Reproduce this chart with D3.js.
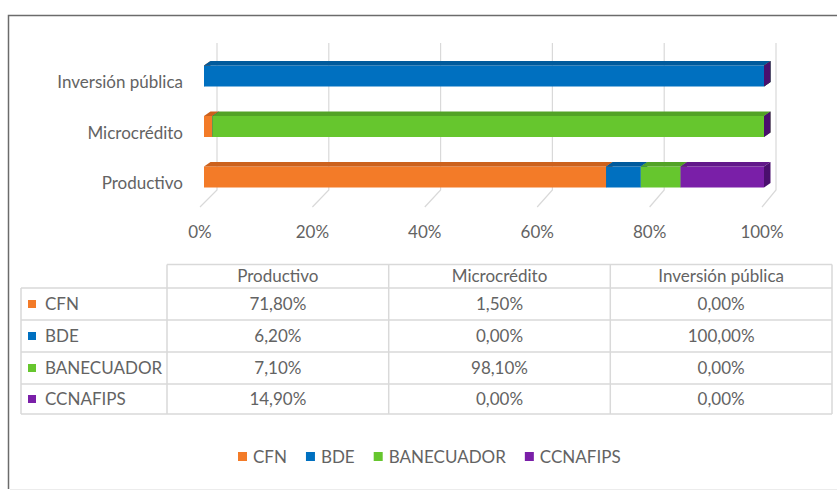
<!DOCTYPE html>
<html>
<head>
<meta charset="utf-8">
<script src="https://cdn.jsdelivr.net/npm/d3@7"></script>
<style>
  body { margin: 0; background: #fff; }
  text { font-family: Lato, "Open Sans", sans-serif; fill: #636363; }
</style>
</head>
<body>
<div id="vis"></div>
<script>
// chart values
var categories = ["Productivo", "Microcrédito", "Inversión pública"];
var series = ["CFN", "BDE", "BANECUADOR", "CCNAFIPS"];
var cfn = [71.8, 1.5, 0];
var bde = [6.2, 0, 100];
var banecuador = [7.1, 98.1, 0];
var ccnafips = [14.9, 0, 0];
var tickValues = [0, 0.2, 0.4, 0.6, 0.8, 1];

var seriesValues = [cfn, bde, banecuador, ccnafips];

var width = 837, height = 493;
var fontSize = 17;

// front / top / side colours of each series
var front = ["#F37B28", "#0070C0", "#66C62E", "#7A1FA8"];
var topFace = ["#CC611C", "#005A9C", "#52A226", "#62188A"];
var sideFace = ["#B0541A", "#004C86", "#468A20", "#4A0F6E"];

var svg = d3.select("#vis").append("svg")
  .attr("width", width)
  .attr("height", height);

// frame
svg.append("path")
  .attr("d", "M8.5,489 L8.5,15.5 L837,15.5")
  .attr("fill", "none")
  .attr("stroke", "#6b6b6b")
  .attr("stroke-width", 1.5);
svg.append("line")
  .attr("x1", 10).attr("x2", 837)
  .attr("y1", 489.5).attr("y2", 489.5)
  .attr("stroke", "#ececec");

// scales: front of the bars, back wall and floor edge
var x = d3.scaleLinear().domain([0, 1]).range([204, 764]);
var xBack = d3.scaleLinear().domain([0, 1]).range([217, 776]);
var xFloor = d3.scaleLinear().domain([0, 1]).range([200, 762]);
var y = d3.scalePoint()
  .domain(categories.slice().reverse())
  .range([76, 177]);
var barH = 21, dx = 6.5, dy = 4.5;

// gridlines on the back wall and floor
var grid = svg.append("g").attr("class", "grid");
tickValues.forEach(function(t) {
  grid.append("path")
    .attr("d", "M" + xBack(t) + ",43 L" + xBack(t) + ",190 L" + xFloor(t) + ",207")
    .attr("fill", "none")
    .attr("stroke", "#d9d9d9")
    .attr("stroke-width", 1.2);
});

svg.append("g").selectAll("text")
  .data(tickValues)
  .enter().append("text")
  .attr("x", function(d) { return xFloor(d); })
  .attr("y", 238)
  .attr("text-anchor", "middle")
  .style("font-size", fontSize + "px")
  .text(d3.format(".0%"));

// category labels
svg.append("g").selectAll("text")
  .data(categories)
  .enter().append("text")
  .attr("x", 183)
  .attr("y", function(d) { return y(d) + 12; })
  .attr("text-anchor", "end")
  .style("font-size", fontSize + "px")
  .text(function(d) { return d; });

// stacked 100% bars
var rows = categories.map(function(c, i) {
  var r = { cat: c };
  series.forEach(function(s, j) { r[s] = seriesValues[j][i]; });
  return r;
});
var stacked = d3.stack().keys(series).offset(d3.stackOffsetExpand)(rows);

var bars = svg.append("g").attr("class", "bars");
stacked.forEach(function(layer, j) {
  layer.forEach(function(d) {
    var x0 = x(d[0]), x1 = x(d[1]);
    var y0 = y(d.data.cat) - barH / 2, y1 = y0 + barH;
    bars.append("rect")
      .attr("x", x0).attr("y", y0)
      .attr("width", x1 - x0).attr("height", barH)
      .attr("fill", front[j]);
    bars.append("path")
      .attr("d", "M" + x0 + "," + y0 + "L" + (x0 + dx) + "," + (y0 - dy) +
        "L" + (x1 + dx) + "," + (y0 - dy) + "L" + x1 + "," + y0 + "Z")
      .attr("fill", topFace[j]);
    bars.append("path")
      .attr("d", "M" + x1 + "," + y0 + "L" + (x1 + dx) + "," + (y0 - dy) +
        "L" + (x1 + dx) + "," + (y1 - dy) + "L" + x1 + "," + y1 + "Z")
      .attr("fill", sideFace[j]);
  });
});

// data table
var fmt = d3.formatLocale({ decimal: ",", thousands: ".", grouping: [3], currency: ["", ""] }).format(".2f");
var colX = [21, 167, 388.7, 610.3, 832];
var rowY = [264.5, 288, 320, 352, 384, 414];
var table = svg.append("g").attr("class", "table");
var lineColor = "#d9d9d9";

// horizontal lines
rowY.forEach(function(yy, i) {
  table.append("line")
    .attr("x1", i === 0 ? colX[1] : colX[0]).attr("x2", colX[4])
    .attr("y1", yy).attr("y2", yy)
    .attr("stroke", lineColor).attr("stroke-width", 1.5);
});
// vertical lines
colX.forEach(function(xx, i) {
  table.append("line")
    .attr("x1", xx).attr("x2", xx)
    .attr("y1", i === 0 ? rowY[1] : rowY[0]).attr("y2", rowY[5])
    .attr("stroke", lineColor).attr("stroke-width", 1.5);
});

categories.forEach(function(c, i) {
  table.append("text")
    .attr("x", (colX[i + 1] + colX[i + 2]) / 2)
    .attr("y", (rowY[0] + rowY[1]) / 2 + 6)
    .attr("text-anchor", "middle")
    .style("font-size", fontSize + "px")
    .text(c);
});

series.forEach(function(s, j) {
  var cy = (rowY[j + 1] + rowY[j + 2]) / 2;
  table.append("rect")
    .attr("x", 28).attr("y", cy - 4)
    .attr("width", 8).attr("height", 8)
    .attr("fill", front[j]);
  table.append("text")
    .attr("x", 45).attr("y", cy + 6)
    .style("font-size", fontSize + "px")
    .text(s);
  seriesValues[j].forEach(function(v, i) {
    table.append("text")
      .attr("x", (colX[i + 1] + colX[i + 2]) / 2)
      .attr("y", cy + 6)
      .attr("text-anchor", "middle")
      .style("font-size", fontSize + "px")
      .text(fmt(v) + "%");
  });
});

// legend
var legend = svg.append("g").attr("class", "legend");
var lx = 238;
series.forEach(function(s, j) {
  legend.append("rect")
    .attr("x", lx).attr("y", 452)
    .attr("width", 9).attr("height", 9)
    .attr("fill", front[j]);
  var t = legend.append("text")
    .attr("x", lx + 15).attr("y", 463)
    .style("font-size", fontSize + "px")
    .text(s);
  lx += 15 + t.node().getComputedTextLength() + 19;
});
</script>
</body>
</html>
